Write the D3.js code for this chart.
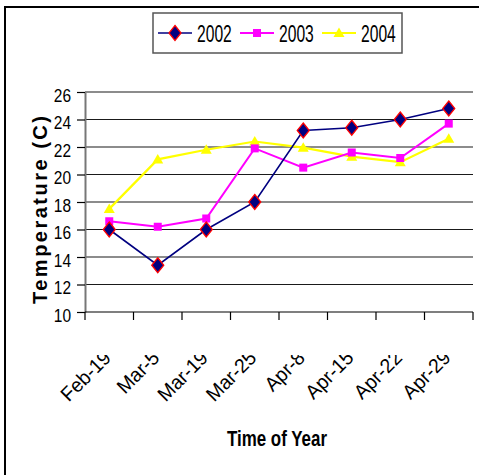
<!DOCTYPE html>
<html>
<head>
<meta charset="utf-8">
<script src="https://cdn.jsdelivr.net/npm/d3@7"></script>
<style>
  html, body { margin: 0; padding: 0; background: #fff; }
  svg { display: block; font-family: "Liberation Sans", Arial, sans-serif; }
</style>
</head>
<body>
<svg id="chart" width="479" height="475"></svg>
<script>
// Weekly temperature readings, one series per year
const dates = ["Feb-19", "Mar-5", "Mar-19", "Mar-25", "Apr-8", "Apr-15", "Apr-22", "Apr-29"];
const years = ["2002", "2003", "2004"];
const temps2002 = [16.0, 13.4, 16.0, 18.0, 23.2, 23.4, 24.0, 24.8];
const temps2003 = [16.6, 16.2, 16.8, 21.9, 20.5, 21.6, 21.2, 23.7];
const temps2004 = [17.5, 21.1, 21.8, 22.4, 21.95, 21.3, 20.9, 22.6];
const yTicks = [10, 12, 14, 16, 18, 20, 22, 24, 26];

const series = [
  { name: years[0], values: temps2002, line: "#000080", width: 1.6, marker: "diamond" },
  { name: years[1], values: temps2003, line: "#ff00ff", width: 2, marker: "square" },
  { name: years[2], values: temps2004, line: "#ffff00", width: 2.2, marker: "triangle" }
];

const svg = d3.select("#chart");

// Narrow the glyphs of a text selection horizontally
function squeeze(sel, k) {
  sel.each(function () {
    const len = this.getComputedTextLength();
    d3.select(this).attr("textLength", len * k).attr("lengthAdjust", "spacingAndGlyphs");
  });
}

// Outer chart frame
svg.append("rect")
  .attr("x", 5).attr("y", 7).attr("width", 480).attr("height", 480)
  .attr("fill", "#fff").attr("stroke", "#000").attr("stroke-width", 2);

const plot = { left: 85, right: 473, top: 92, bottom: 312 };

const x = d3.scaleBand().domain(dates).range([plot.left, plot.right]);
const y = d3.scaleLinear().domain([10, 26]).range([plot.bottom, plot.top]);
const cx = d => x(d) + x.bandwidth() / 2;

// Horizontal gridlines
svg.append("g").selectAll("line").data(yTicks.slice(1)).join("line")
  .attr("x1", plot.left).attr("x2", plot.right)
  .attr("y1", d => y(d)).attr("y2", d => y(d))
  .attr("stroke", "#1a1a1a").attr("stroke-width", 1.2);

// Y axis
const yAxis = svg.append("g")
  .attr("transform", `translate(${plot.left},0)`)
  .call(d3.axisLeft(y).tickValues(yTicks).tickSize(8).tickPadding(6).tickSizeOuter(0));
yAxis.select(".domain").attr("stroke", "#777").attr("stroke-width", 2);
yAxis.selectAll(".tick line").attr("stroke", "#000").attr("stroke-width", 1.2);
yAxis.selectAll(".tick text")
  .attr("font-size", 18).attr("fill", "#000")
  .attr("font-family", "Liberation Sans, Arial, sans-serif")
  .attr("dy", "0.5em")
  .call(squeeze, 0.86);

// X axis: ticks on category boundaries
const edges = dates.map(d => x(d)).concat([plot.right]);
const xAxis = svg.append("g");
xAxis.append("line")
  .attr("x1", plot.left).attr("x2", plot.right)
  .attr("y1", plot.bottom).attr("y2", plot.bottom)
  .attr("stroke", "#000").attr("stroke-width", 1.2);
xAxis.selectAll("line.tick").data(edges).join("line")
  .attr("class", "tick")
  .attr("x1", d => d).attr("x2", d => d)
  .attr("y1", plot.bottom).attr("y2", plot.bottom + 8)
  .attr("stroke", "#000").attr("stroke-width", 1.2);

// Rotated category labels, clipped along their top edge
const defs = svg.append("defs");
defs.append("clipPath").attr("id", "xlabel-clip")
  .append("rect").attr("x", 0).attr("y", 355).attr("width", 479).attr("height", 120);
xAxis.append("g").attr("clip-path", "url(#xlabel-clip)")
  .selectAll("text").data(dates).join("text")
  .attr("transform", d => `translate(${cx(d) + 3},${plot.bottom + 47}) rotate(-45)`)
  .attr("text-anchor", "end")
  .attr("font-size", 20)
  .text(d => d)
  .call(squeeze, 0.97);

// Axis titles
svg.append("text")
  .attr("x", 277).attr("y", 446)
  .attr("text-anchor", "middle")
  .attr("font-size", 22).attr("font-weight", "bold")
  .text("Time of Year")
  .call(squeeze, 0.77);

svg.append("text")
  .attr("transform", "translate(47,210) rotate(-90)")
  .attr("text-anchor", "middle")
  .attr("font-size", 20).attr("font-weight", "bold")
  .attr("textLength", 188).attr("lengthAdjust", "spacing")
  .text("Temperature (C)");

// Marker shapes
function drawMarker(g, type) {
  if (type === "diamond") {
    g.append("path").attr("d", "M0,-7.5L6,0L0,7.5L-6,0Z")
      .attr("fill", "#000080").attr("stroke", "#ff0000").attr("stroke-width", 1.3);
  } else if (type === "square") {
    g.append("rect").attr("x", -4).attr("y", -4).attr("width", 8).attr("height", 8)
      .attr("fill", "#ff00ff");
  } else {
    g.append("path").attr("d", "M0,-5.5L5.5,4L-5.5,4Z").attr("fill", "#ffff00");
  }
}

const line = d3.line().x((v, i) => cx(dates[i])).y(v => y(v));

// Lines, drawn back to front, then markers
[...series].reverse().forEach(s => {
  svg.append("path")
    .attr("d", line(s.values))
    .attr("fill", "none").attr("stroke", s.line).attr("stroke-width", s.width);
});
[...series].reverse().forEach(s => {
  svg.append("g").selectAll("g").data(s.values).join("g")
    .attr("transform", (v, i) => `translate(${cx(dates[i])},${y(v)})`)
    .each(function () { drawMarker(d3.select(this), s.marker); });
});

// Legend
const legend = svg.append("g");
legend.append("rect")
  .attr("x", 153).attr("y", 13).attr("width", 249).attr("height", 40)
  .attr("fill", "#fff").attr("stroke", "#555").attr("stroke-width", 1.5);
const legendX = [158, 240, 322];
series.forEach((s, i) => {
  const g = legend.append("g").attr("transform", `translate(${legendX[i]},33)`);
  g.append("line").attr("x1", 0).attr("x2", 34).attr("y1", 0).attr("y2", 0)
    .attr("stroke", s.line).attr("stroke-width", s.width);
  const m = g.append("g").attr("transform", "translate(17,0)");
  drawMarker(m, s.marker);
  g.append("text").attr("x", 39).attr("y", 9)
    .attr("font-size", 23)
    .text(s.name)
    .call(squeeze, 0.68);
});
</script>
</body>
</html>
